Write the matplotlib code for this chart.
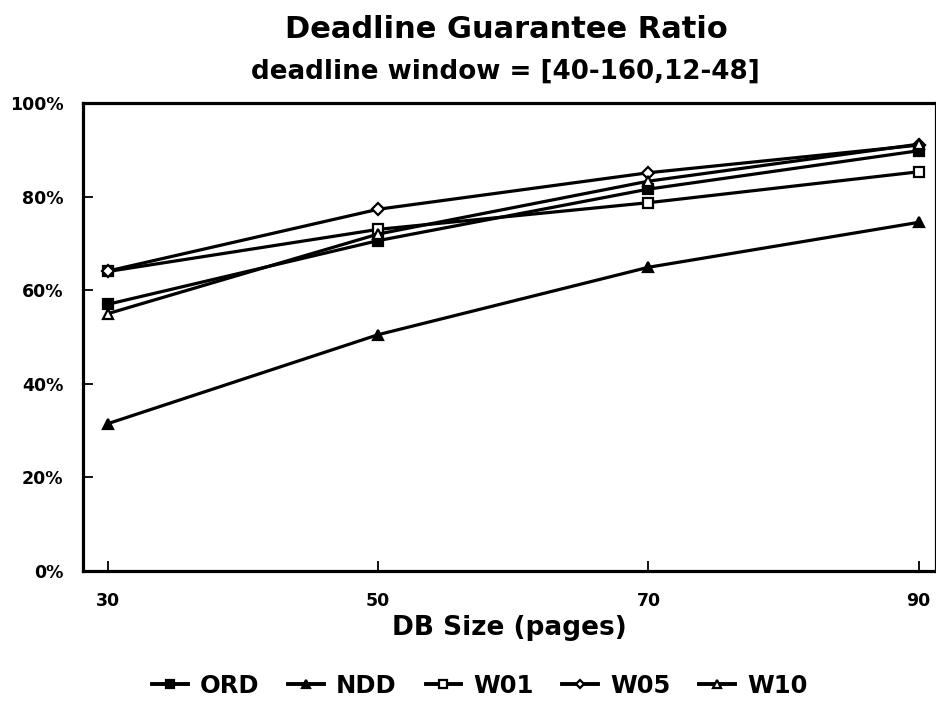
import matplotlib
matplotlib.use("Agg")
import matplotlib.pyplot as plt
from matplotlib.ticker import FuncFormatter

plt.rcParams['font.family'] = ['DejaVu Sans']
plt.rcParams['font.weight'] = 'bold'

db_size = [30, 50, 70, 90]
ord_vals = [57.0, 70.6, 81.6, 89.8]
ndd_vals = [31.5, 50.5, 64.9, 74.5]
w01_vals = [64.0, 73.0, 78.7, 85.3]
w05_vals = [64.1, 77.3, 85.1, 91.0]
w10_vals = [55.0, 72.0, 83.3, 91.2]

series = [
    ("ORD", ord_vals, "s", "black"),
    ("NDD", ndd_vals, "^", "black"),
    ("W01", w01_vals, "s", "white"),
    ("W05", w05_vals, "D", "white"),
    ("W10", w10_vals, "^", "white"),
]

fig = plt.figure(figsize=(9.37, 7.04), dpi=100)
ax = fig.add_axes([0.0886, 0.1889, 0.910, 0.6648])

for name, vals, mk, fc in series:
    ms = 7.5 if mk != "D" else 6.5
    ax.plot(db_size, vals, color="black", lw=2.3, marker=mk, markersize=ms,
            markerfacecolor=fc, markeredgecolor="black", markeredgewidth=1.6,
            label=name)

ax.set_xlim(28.15, 91.26)
ax.set_ylim(0, 100)
ax.set_xticks(db_size)
ax.set_yticks([0, 20, 40, 60, 80, 100])
ax.yaxis.set_major_formatter(FuncFormatter(lambda v, p: f"{int(v)}%"))
ax.tick_params(direction="in", length=7, width=1.3, labelsize=12.5)
ax.tick_params(axis="x", pad=15)
ax.tick_params(axis="y", pad=14)
for lab in ax.get_xticklabels() + ax.get_yticklabels():
    lab.set_fontweight("bold")
for sp in ax.spines.values():
    sp.set_linewidth(2.3)

fig.text(0.5435, 1 - 635 / 704, "DB Size (pages)", ha="center",
         va="baseline", fontsize=19, fontweight="bold")

fig.text(0.5406, 1 - 38 / 704, "Deadline Guarantee Ratio", ha="center",
         va="baseline", fontsize=22, fontweight="bold")
fig.text(0.539, 1 - 79 / 704, "deadline window = [40-160,12-48]",
         ha="center", va="baseline", fontsize=18.8, fontweight="bold")

leg = fig.legend(loc="center", bbox_to_anchor=(0.512, 1 - 686 / 704), ncol=5,
                 frameon=False, handlelength=1.45, handletextpad=0.5,
                 columnspacing=1.2, markerscale=0.7,
                 prop={"weight": "bold", "size": 17.5})
for line in leg.get_lines():
    line.set_linewidth(2.8)

fig.savefig("out.png", dpi=100)
